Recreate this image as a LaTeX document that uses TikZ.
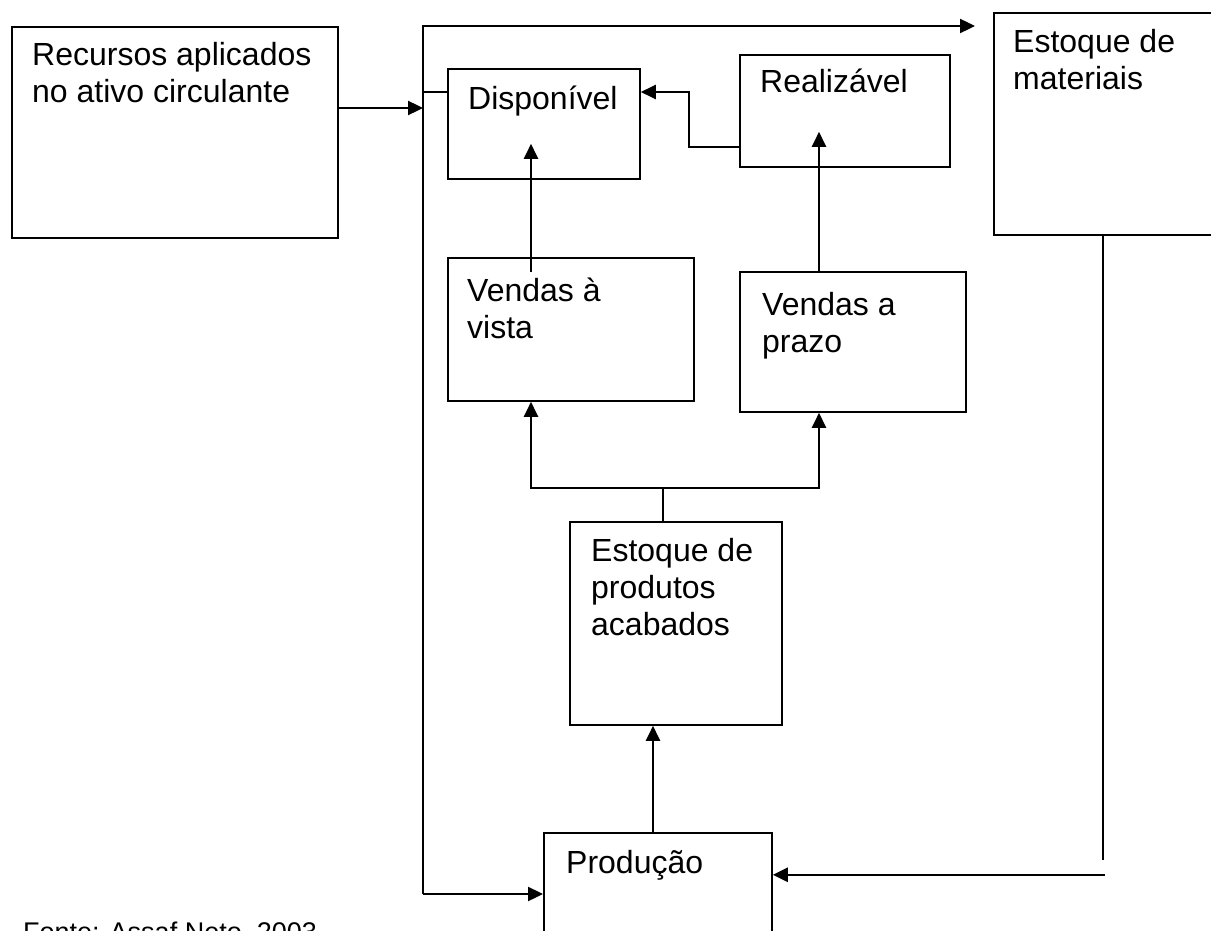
\documentclass[tikz,border=0pt]{standalone}
\usepackage{fontspec}
\setmainfont{Liberation Sans}
\usetikzlibrary{arrows.meta}
\begin{document}
\begin{tikzpicture}[x=1pt, y=-1pt,
	box/.style={draw, line width=1.8pt, anchor=north west, inner sep=0pt},
	lbl/.style={anchor=base west, align=left, inner sep=0pt, font=\fontsize{32}{37}\selectfont},
	arr/.style={line width=2.4pt, -{Triangle[length=15pt,width=14pt]}},
	ln/.style={line width=1.8pt}]
	\useasboundingbox (0,0) rectangle (1211,931);
	\clip (0,0) rectangle (1211,931);
	
	\node [box, minimum width=326pt, minimum height=211pt] (rec) at (11,26) {};
	\node [box, minimum width=192pt, minimum height=110pt] (disp) at (447,68) {};
	\node [box, minimum width=210pt, minimum height=112pt] (real) at (739,54) {};
	\node [box, minimum width=240pt, minimum height=222pt] (estm) at (993,12) {};
	\node [box, minimum width=246pt, minimum height=143pt] (vv) at (447,257) {};
	\node [box, minimum width=226pt, minimum height=140pt] (vp) at (739,271) {};
	\node [box, minimum width=212pt, minimum height=203pt] (epa) at (569,521) {};
	\node [box, minimum width=228pt, minimum height=130pt] (prod) at (543,832) {};
	
	% multi-line labels sit on the baseline of their last line
	\node [lbl] (rec-t) at (32,103) {Recursos aplicados\\no ativo circulante};
	\node [lbl] (disp-t) at (468,110) {Disponível};
	\node [lbl] (real-t) at (760,93) {Realizável};
	\node [lbl] (estm-t) at (1013,90) {Estoque de\\materiais};
	\node [lbl] (vv-t) at (467,338) {Vendas à\\vista};
	\node [lbl] (vp-t) at (762,352) {Vendas a\\prazo};
	\node [lbl] (epa-t) at (591,635) {Estoque de\\produtos\\acabados};
	\node [lbl] (prod-t) at (566,873) {Produção};
	\node [lbl, font=\fontsize{27}{32}\selectfont] (fonte) at (23,941) {Fonte: Assaf Neto, 2003};
	
	% big loop on the left
	\coordinate (tl) at (423,26);
	\coordinate (bl) at (423,894);
	\draw[arr] (bl) -- (tl) -- ([xshift=-18pt,yshift=-14pt]estm.north west);
	\draw[arr] (bl) -- (bl -| prod.west);
	\draw[arr] ([yshift=-82pt]rec.north east) coordinate (r1) -- (r1 -| tl);
	\draw[ln] ([yshift=-24pt]disp.north west) coordinate (d1) -- (d1 -| tl);
	
	\draw[arr] ([yshift=-93pt]real.north west) -- ++(-50,0) |- ([yshift=-24pt]disp.north east);
	\draw[arr] ([xshift=84pt,yshift=-15pt]vv.north west) -- ([xshift=84pt,yshift=36pt]disp.south west);
	\draw[arr] ([xshift=80pt]vp.north west) -- ([xshift=80pt,yshift=36pt]real.south west);
	
	\draw[ln] ([xshift=94pt]epa.north west) -- ++(0,-33) coordinate (br);
	\draw[arr] (br) -| ([xshift=84pt]vv.south west);
	\draw[arr] (br) -| ([xshift=80pt]vp.south west);
	\draw[arr] ([xshift=110pt]prod.north west) -- ([xshift=84pt]epa.south west);
	
	\draw[ln] ([xshift=110pt]estm.south west) -- ++(0,624) coordinate (e1);
	\draw[arr] ([xshift=2pt,yshift=-15pt]e1) coordinate (e2) -- (e2 -| prod.east);
\end{tikzpicture}
\end{document}
